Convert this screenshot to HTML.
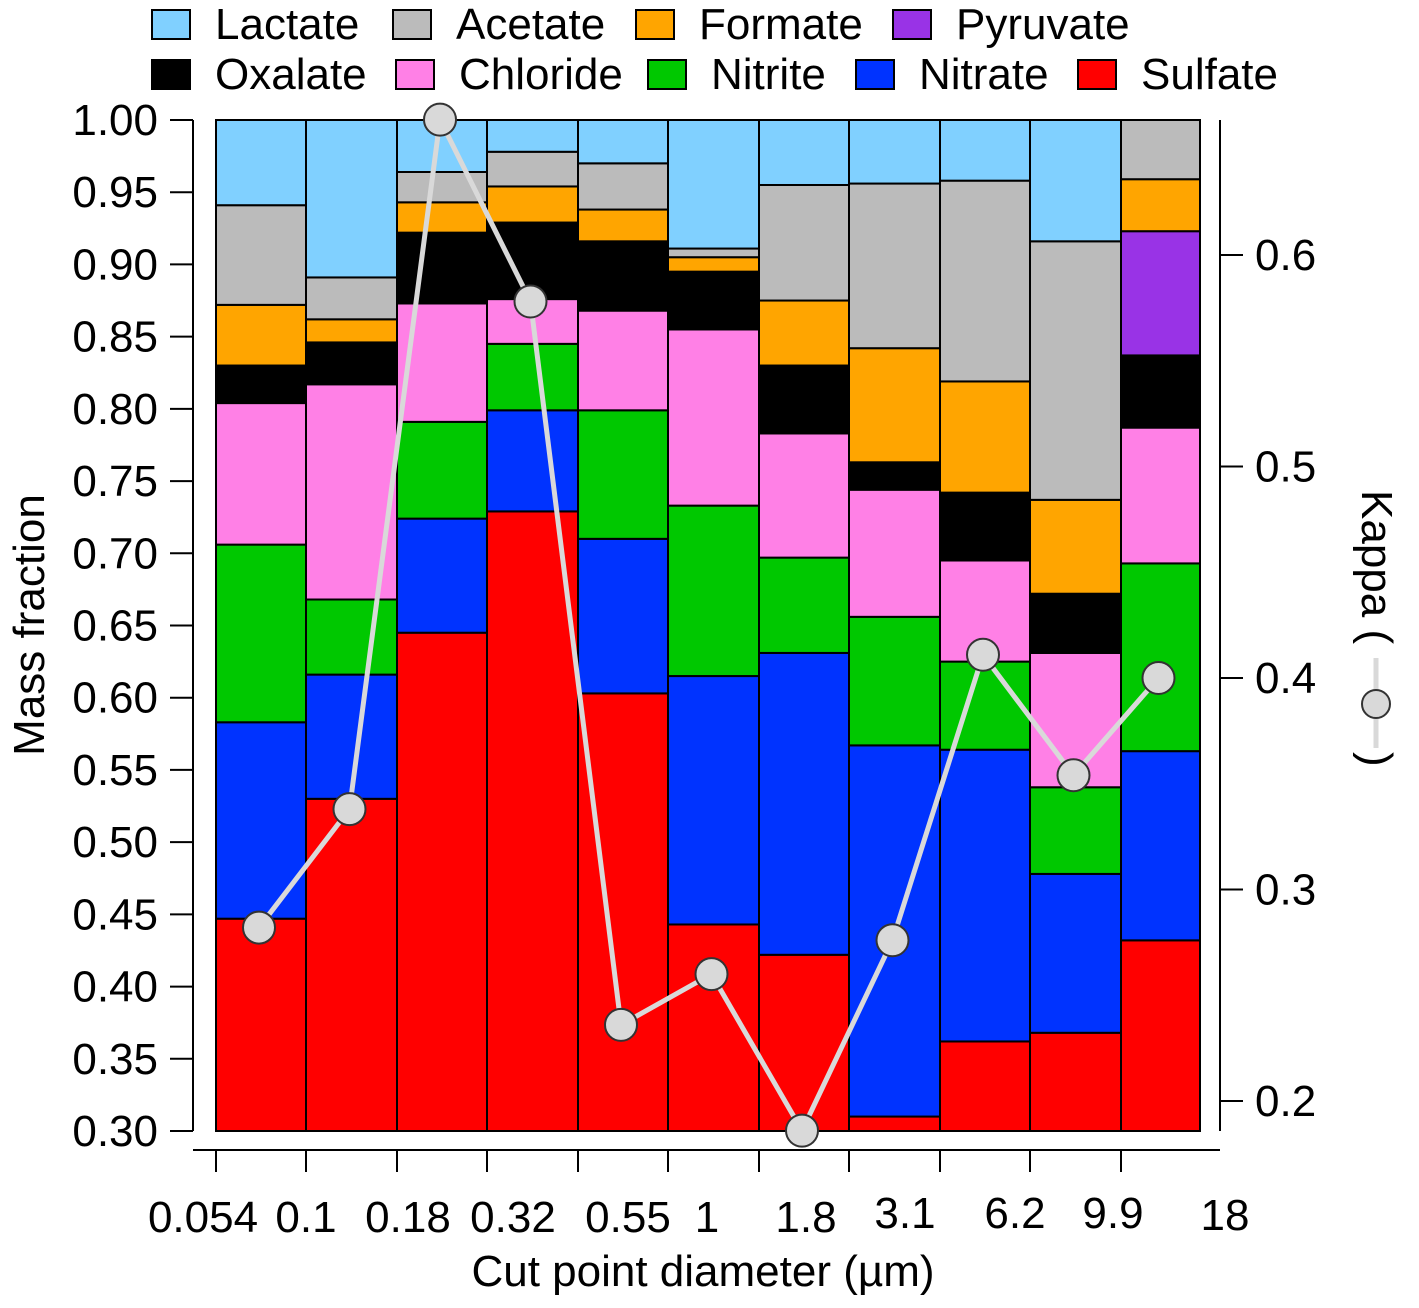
<!DOCTYPE html>
<html><head><meta charset="utf-8"><style>
html,body{margin:0;padding:0;background:#fff;}
svg{display:block;font-family:"Liberation Sans",Arial,sans-serif;}
</style></head><body>
<svg id="chart" width="1419" height="1308" viewBox="0 0 1419 1308">
<g id="legend"></g>
<g id="bars"></g>
<g id="kappa"></g>
<g id="axes" stroke="#000" stroke-width="2"></g>
<g font-size="44" text-anchor="middle">
<text x="203" y="1232">0.054</text><text x="306" y="1232">0.1</text><text x="408" y="1232">0.18</text>
<text x="513" y="1232">0.32</text><text x="628" y="1232">0.55</text><text x="707" y="1232">1</text>
<text x="806" y="1232">1.8</text><text x="905" y="1228">3.1</text><text x="1015" y="1228">6.2</text>
<text x="1113" y="1228">9.9</text><text x="1225" y="1230">18</text>
</g>
<text x="703" y="1286" font-size="44" text-anchor="middle">Cut point diameter (µm)</text>
<text transform="translate(44,625) rotate(-90)" font-size="44" text-anchor="middle">Mass fraction</text>
<g transform="translate(1362,490) rotate(90)">
<text x="0" y="0" font-size="44">Kappa (</text>
<line x1="168" y1="-14" x2="258" y2="-14" stroke="#d9d9d9" stroke-width="5"/>
<circle cx="214" cy="-14" r="14" fill="#d9d9d9" stroke="#333" stroke-width="2"/>
<text x="262" y="0" font-size="44">)</text>
</g>
</svg>
<script>
const NS="http://www.w3.org/2000/svg";
const species=["Sulfate","Nitrate","Nitrite","Chloride","Oxalate","Pyruvate","Formate","Acetate","Lactate"];
const colors=["#ff0000","#0033ff","#00c800","#ff80e6","#000000","#9933e6","#ffa500","#bbbbbb","#80d0ff"];
const sulfate=[0.447,0.530,0.645,0.729,0.603,0.443,0.422,0.310,0.362,0.368,0.432];
const nitrate=[0.136,0.086,0.079,0.070,0.107,0.172,0.209,0.257,0.202,0.110,0.131];
const nitrite=[0.123,0.052,0.067,0.046,0.089,0.118,0.066,0.089,0.061,0.060,0.130];
const chloride=[0.098,0.149,0.082,0.031,0.069,0.122,0.086,0.088,0.070,0.093,0.094];
const oxalate=[0.026,0.029,0.049,0.053,0.048,0.040,0.047,0.019,0.047,0.041,0.050];
const pyruvate=[0,0,0,0,0,0,0,0,0,0,0.086];
const formate=[0.042,0.016,0.021,0.025,0.022,0.010,0.045,0.079,0.077,0.065,0.036];
const acetate=[0.069,0.029,0.021,0.024,0.032,0.006,0.080,0.114,0.139,0.179,0.041];
const lactate=[0.059,0.109,0.036,0.022,0.030,0.089,0.045,0.044,0.042,0.084,0];
const series=[sulfate,nitrate,nitrite,chloride,oxalate,pyruvate,formate,acetate,lactate];
const kappa=[0.282,0.338,0.664,0.578,0.236,0.260,0.186,0.276,0.411,0.354,0.400];
const yTicks=["0.30","0.35","0.40","0.45","0.50","0.55","0.60","0.65","0.70","0.75","0.80","0.85","0.90","0.95","1.00"];
const kTicks=["0.2","0.3","0.4","0.5","0.6"];
const edges=[216,306,397,487,578,668,759,849,940,1030,1121,1200];
const y=v=>120+(1-v)/0.7*1011;
const ky=k=>1101-(k-0.2)*2115;
function mk(tag,attrs,parent){const e=document.createElementNS(NS,tag);for(const k in attrs)e.setAttribute(k,attrs[k]);parent.appendChild(e);return e;}
const bars=document.getElementById('bars');
for(let i=0;i<sulfate.length;i++){
  let base=0;
  for(let s=0;s<series.length;s++){
    const v=series[s][i]; if(v<=0)continue;
    const lo=Math.max(base,0.3), hi=Math.min(base+v,1);
    base+=v;
    if(hi<=lo)continue;
    const r=mk('rect',{x:edges[i],y:y(hi),width:edges[i+1]-edges[i],height:y(lo)-y(hi),fill:colors[s],stroke:'#000','stroke-width':2},bars);
    
    
  }
}
const kg=document.getElementById('kappa');
const cx=i=>(edges[i]+edges[i+1])/2-2;
const pl=mk('polyline',{points:kappa.map((k,i)=>cx(i)+','+ky(k)).join(' '),fill:'none',stroke:'#d9d9d9','stroke-width':5},kg);


kappa.forEach((k,i)=>{const c=mk('circle',{cx:cx(i),cy:ky(k),r:16,fill:'#d9d9d9',stroke:'#333','stroke-width':2},kg);

});
const ax=document.getElementById('axes');
mk('line',{x1:193,y1:120,x2:193,y2:1131},ax);
mk('line',{x1:1220,y1:120,x2:1220,y2:1131},ax);
mk('line',{x1:193,y1:1150,x2:1220,y2:1150},ax);
yTicks.forEach(t=>{const yy=y(parseFloat(t));mk('line',{x1:170,y1:yy,x2:193,y2:yy},ax);
const tx=mk('text',{x:158,y:yy+15,'font-size':44,'text-anchor':'end',stroke:'none',fill:'#000'},ax);tx.textContent=t;

});
kTicks.forEach(t=>{const yy=ky(parseFloat(t));mk('line',{x1:1220,y1:yy,x2:1243,y2:yy},ax);
const tx=mk('text',{x:1255,y:yy+15,'font-size':44,stroke:'none',fill:'#000'},ax);tx.textContent=t;

});
edges.slice(0,11).forEach(x=>mk('line',{x1:x,y1:1150,x2:x,y2:1172},ax));
const lg=document.getElementById('legend');
const legendItems=[["Lactate",8,152,10],["Acetate",7,393,10],["Formate",6,636,10],["Pyruvate",5,893,10],
["Oxalate",4,152,60],["Chloride",3,396,60],["Nitrite",2,648,60],["Nitrate",1,856,60],["Sulfate",0,1078,60]];
legendItems.forEach(([n,ci,x,yy])=>{
  const g=mk('g',{},lg);
  
  
  mk('rect',{x:x,y:yy,width:38,height:29,fill:colors[ci],stroke:'#000','stroke-width':2},g);
  const t=mk('text',{x:x+63,y:yy+29,'font-size':44},g);t.textContent=n;
});
</script>
</body></html>
